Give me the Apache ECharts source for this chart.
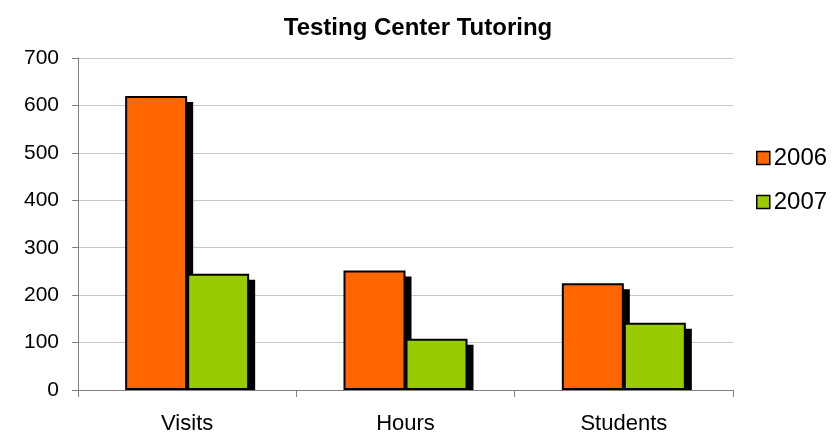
<!DOCTYPE html>
<html>
<head>
<meta charset="utf-8">
<script src="https://cdn.jsdelivr.net/npm/echarts@6/dist/echarts.min.js"></script>
<style>
  html, body { margin: 0; padding: 0; background: #fff; }
  #chart { width: 836px; height: 434px; }
</style>
</head>
<body>
<div id="chart"></div>
<script>
// chart data
const categories = ["Visits", "Hours", "Students"];
const seriesNames = ["2006", "2007"];
const values2006 = [620, 252, 225];
const values2007 = [245, 108, 142];
const yTicks = [0, 100, 200, 300, 400, 500, 600, 700];

const BAR_W = 62;
const SHADOW = 6;
const FONT = "Liberation Sans, Arial, sans-serif";

const chart = echarts.init(document.getElementById("chart"), null, { renderer: "canvas" });

// black drop shadow behind each bar (drawn as its own rect so it stops at the axis)
const shadowData = [];
[values2006, values2007].forEach((vals, s) => {
  vals.forEach((v, i) => shadowData.push([i, v, s]));
});

function renderShadow(params, api) {
  const cat = api.value(0);
  const v = api.value(1);
  const s = api.value(2);
  const top = api.coord([cat, v]);
  const base = api.coord([cat, 0]);
  const x = top[0] - BAR_W + s * BAR_W;
  return {
    type: "rect",
    shape: { x: x + SHADOW, y: top[1] + SHADOW, width: BAR_W, height: base[1] - top[1] - SHADOW },
    style: { fill: "#000" }
  };
}

const option = {
  backgroundColor: "#fff",
  animation: false,
  title: {
    text: "Testing Center Tutoring",
    left: "center",
    top: 11,
    textStyle: { fontFamily: FONT, fontSize: 24, fontWeight: "bold", color: "#000" }
  },
  legend: {
    data: seriesNames,
    orient: "vertical",
    left: 751,
    top: 141,
    icon: "rect",
    itemWidth: 13,
    itemHeight: 13,
    itemGap: 20,
    textStyle: { fontFamily: FONT, fontSize: 24, color: "#000", padding: [0, 0, 0, -1] },
    itemStyle: { borderColor: "#000", borderWidth: 1.5 }
  },
  grid: { left: 78, right: 103, top: 58, bottom: 44, outerBoundsMode: "none" },
  xAxis: {
    type: "category",
    data: categories,
    axisLine: { lineStyle: { color: "#808080", width: 1 } },
    axisTick: { show: true, length: 7, lineStyle: { color: "#808080" } },
    axisLabel: { fontFamily: FONT, fontSize: 22, color: "#000", margin: 23 }
  },
  yAxis: {
    type: "value",
    min: 0,
    max: 700,
    interval: 100,
    axisLine: { show: true, lineStyle: { color: "#808080", width: 1 } },
    axisTick: { show: true, length: 6, lineStyle: { color: "#808080" } },
    axisLabel: {
      fontFamily: FONT, fontSize: 21, color: "#000", margin: 19,
      formatter: (v) => (yTicks.includes(v) ? String(v) : "")
    },
    splitLine: { show: true, lineStyle: { color: "#c8c8c8", width: 1 } }
  },
  series: [
    {
      type: "custom",
      renderItem: renderShadow,
      data: shadowData,
      encode: { x: 0, y: 1 },
      z: 1,
      silent: true
    },
    {
      name: seriesNames[0],
      type: "bar",
      data: values2006,
      barWidth: BAR_W,
      barGap: "0%",
      z: 2,
      itemStyle: { color: "#ff6600", borderColor: "#000", borderWidth: 2 }
    },
    {
      name: seriesNames[1],
      type: "bar",
      data: values2007,
      barWidth: BAR_W,
      barGap: "0%",
      z: 2,
      itemStyle: { color: "#99cc00", borderColor: "#000", borderWidth: 2 }
    }
  ]
};

chart.setOption(option);
</script>
</body>
</html>
